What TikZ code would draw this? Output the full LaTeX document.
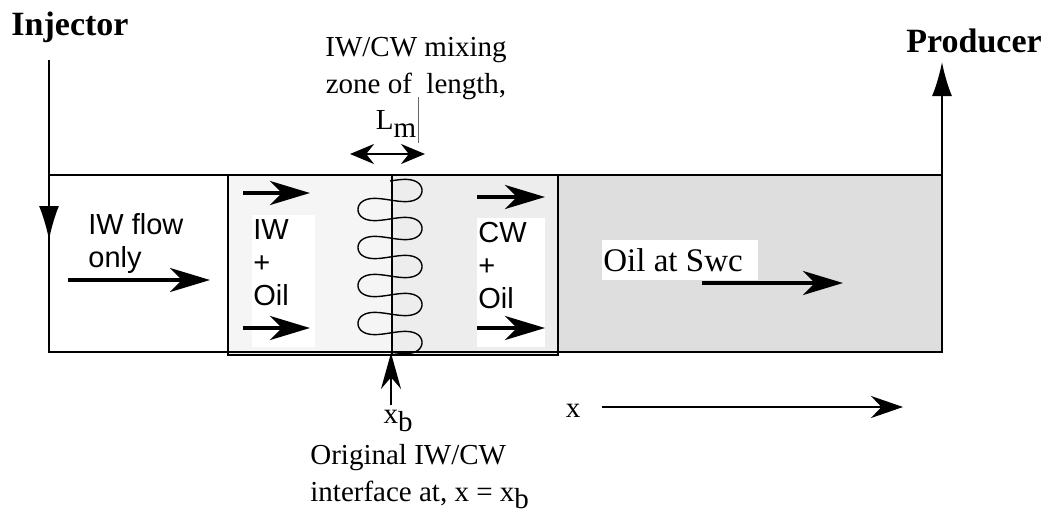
\documentclass[tikz,border=0pt]{standalone}
\usepackage{fontspec}
\setmainfont{Liberation Serif}
\setsansfont{Liberation Sans}
\usetikzlibrary{arrows.meta}
\usetikzlibrary{positioning}

\begin{document}
\begin{tikzpicture}[x=0.5pt,y=-0.5pt,
        flow/.style={line width=2pt,-{Stealth[length=20pt,width=12pt,inset=6pt]}},
        well/.style={line width=1pt,-{Latex[length=17pt,width=10pt]}},
        serif/.style={font=\fontsize{14.5}{18.5}\selectfont,inner sep=0pt},
        sans/.style={font=\sffamily\fontsize{14.5}{16.5}\selectfont,align=left,inner sep=0pt},
        bold/.style={font=\bfseries\fontsize{17}{20}\selectfont,inner sep=0pt}]
        \useasboundingbox (0,0) rectangle (1054,514);

        % zones
        \fill[white] (49,175) rectangle (228,352);
        \fill[black!4] (228,175) rectangle (392,355);
        \fill[black!7] (392,175) rectangle (558,355);
        \fill[black!13] (558,175) rectangle (942,352);

        % mixing front
        \draw[line width=0.7pt,domain=0:1620,samples=400,smooth,variable=\t]
        plot ({390+32*sin(\t)},{181+\t/360*38-5.5*sin(2*\t)});

        % text backgrounds
        \fill[white] (252,215) rectangle (315,347);
        \fill[white] (477,218) rectangle (545,347);
        \fill[white] (602,240) rectangle (758,280);

        % outlines
        \draw[line width=1pt] (49,175)--(942,175);
        \draw[line width=1pt] (49,175)--(49,352)--(942,352)--(942,175);
        \draw[line width=1.3pt] (228,175) rectangle (558,355);
        \draw[line width=1pt] (392,175)--(392,355);

        % wells
        \node[bold] (injlbl) at (70,27) {Injector};
        \node[bold] (prodlbl) at (974,41) {Producer};
        \coordinate (injtop) at (49,60);
        \coordinate (injmid) at (49,240);
        \coordinate (prodbot) at (942,175);
        \coordinate (prodtop) at (942,62);
        \draw[well] (injtop)--(injmid);
        \draw[well] (prodbot)--(prodtop);

        % flow labels
        \node[sans,anchor=west] (iwflow) at (88,243) {IW flow\\only};
        \node[sans,anchor=west] (iwoil) at (253,263) {IW\\+\\Oil};
        \node[sans,anchor=west] (cwoil) at (478,266) {CW\\+\\Oil};
        \node[serif,font=\fontsize{16.5}{18}\selectfont,anchor=west] (oilswc) at (603,260) {Oil at Swc};

        % flow arrows
        \coordinate (a1) at (68,280);   \coordinate (b1) at (210,280);
        \coordinate (a2) at (243,193);  \coordinate (b2) at (310,193);
        \coordinate (a3) at (243,328);  \coordinate (b3) at (310,328);
        \coordinate (a4) at (477,197);  \coordinate (b4) at (545,197);
        \coordinate (a5) at (477,328);  \coordinate (b5) at (545,328);
        \coordinate (a6) at (702,283);  \coordinate (b6) at (843,283);
        \foreach \i in {1,...,6}
            \draw[flow] (a\i)--(b\i);

        % mixing zone
        \node[serif,align=center] (mixlbl) at (416,69) {IW/CW mixing\\zone of\ \ length,};
        \node[serif] (lmlbl) at (396,124) {L\raisebox{-0.55ex}{m}};
        \draw[black!60,line width=0.4pt] (418,97)--(418,143);
        \coordinate (mixl) at (350,154);
        \coordinate (mixr) at (425,154);
        \draw[line width=1.2pt,{Stealth[length=12pt,width=10pt]}-{Stealth[length=12pt,width=10pt]}] (mixl)--(mixr);

        % interface
        \node[serif] (xblbl) at (398,421) {x\raisebox{-0.55ex}{b}};
        \coordinate (xbtip) at (391,353);
        \draw[line width=1pt,-{Stealth[length=18pt,width=10pt]}] (xblbl.north -| xbtip) ++(0,-5) -- (xbtip);
        \node[serif,align=left,anchor=north west] (origlbl) at (310,444) {Original IW/CW\\interface at, x = x\raisebox{-0.55ex}{b}};

        % axis
        \node[serif] (xlbl) at (573,411) {x};
        \coordinate (xend) at (903,407);
        \draw[line width=1pt,-{Stealth[length=16pt,width=11pt]}] (602,407)--(xend);
    \end{tikzpicture}
\end{document}
